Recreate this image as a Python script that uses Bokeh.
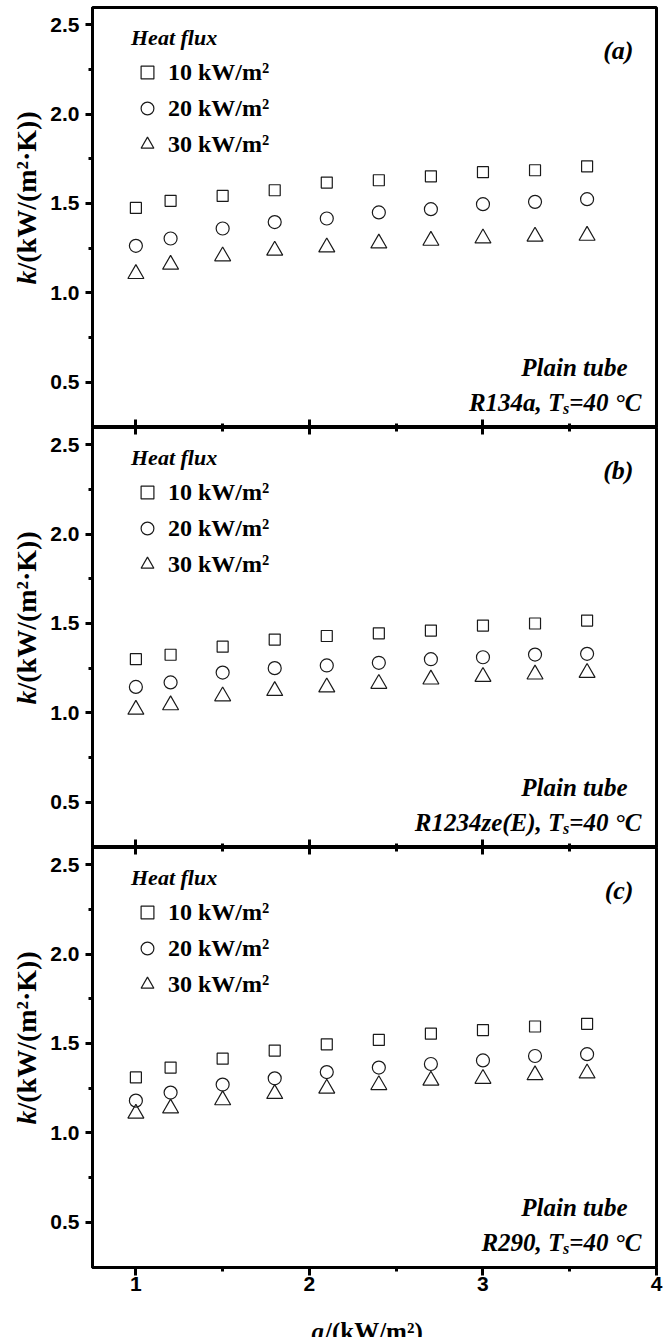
from math import pi
from bokeh.plotting import figure
from bokeh.layouts import column, row
from bokeh.models import (Range1d, FixedTicker, LinearAxis, Label, Legend,
                          LegendItem, PrintfTickFormatter)
from bokeh.embed import file_html
from bokeh.resources import INLINE

# ---------------- data ----------------
q = [1.0, 1.2, 1.5, 1.8, 2.1, 2.4, 2.7, 3.0, 3.3, 3.6]

a_10 = [1.475, 1.515, 1.542, 1.574, 1.617, 1.630, 1.652, 1.675, 1.686, 1.708]
a_20 = [1.263, 1.304, 1.360, 1.396, 1.416, 1.450, 1.468, 1.496, 1.509, 1.524]
a_30 = [1.106, 1.158, 1.205, 1.237, 1.255, 1.277, 1.292, 1.305, 1.315, 1.320]

b_10 = [1.300, 1.325, 1.370, 1.410, 1.430, 1.445, 1.460, 1.488, 1.500, 1.516]
b_20 = [1.145, 1.170, 1.225, 1.250, 1.265, 1.280, 1.300, 1.311, 1.326, 1.330]
b_30 = [1.018, 1.043, 1.093, 1.123, 1.143, 1.163, 1.187, 1.202, 1.215, 1.224]

c_10 = [1.310, 1.365, 1.415, 1.460, 1.495, 1.520, 1.555, 1.575, 1.595, 1.610]
c_20 = [1.180, 1.225, 1.270, 1.305, 1.340, 1.365, 1.385, 1.405, 1.430, 1.440]
c_30 = [1.108, 1.137, 1.183, 1.218, 1.248, 1.268, 1.293, 1.303, 1.323, 1.333]

series_labels = ["10 kW/m²", "20 kW/m²", "30 kW/m²"]
panel_letters = ["(a)", "(b)", "(c)"]
fluids = ["R134a, T", "R1234ze(E), T", "R290, T"]
tube_label = "Plain tube"
legend_title = "Heat flux"
y_title_k = "k"
y_title_rest = "/(kW/(m²·K))"
x_title_q = "q"
x_title_rest = "/(kW/m²)"

x_major = [1, 2, 3, 4]
x_minor = [1.5, 2.5, 3.5]
y_major = [0.5, 1.0, 1.5, 2.0, 2.5]
y_minor = [0.75, 1.25, 1.75, 2.25]

SERIF = "Liberation Serif"
SANS = "Liberation Sans"
INK = "#1a1a1a"

LEFT_W = 46          # width of the strip holding the y titles
FRAME_W = 564
FRAME_H = 420
RIGHT_B = 16
TOP_B = 7
BOTTOM_AXIS = 40     # room under panel (c) for its tick labels
BOTTOM_STRIP = 30    # strip holding the x title
TOTAL_W = 672
TOTAL_H = 1337
PANELS_H = TOTAL_H - BOTTOM_STRIP


def bare_fig(w, h):
    f = figure(frame_width=w, frame_height=h, x_range=Range1d(0, 1),
               y_range=Range1d(0, 1), output_backend="svg",
               toolbar_location=None, min_border=0)
    f.title.visible = False
    f.xaxis.visible = False
    f.yaxis.visible = False
    f.xgrid.visible = False
    f.ygrid.visible = False
    f.outline_line_color = None
    f.background_fill_color = "white"
    f.border_fill_color = "white"
    return f


def style_axis_common(ax):
    ax.axis_line_width = 3
    ax.axis_line_color = "black"
    ax.major_tick_line_width = 3
    ax.minor_tick_line_width = 3
    ax.major_tick_line_color = "black"
    ax.minor_tick_line_color = "black"


def tick_only_axis(ax, positions, length):
    # an axis with no labels: its ticks are drawn as "minor" ticks
    ax.ticker = FixedTicker(ticks=[], minor_ticks=positions)
    style_axis_common(ax)
    ax.major_tick_in = 0
    ax.major_tick_out = 0
    ax.minor_tick_in = length
    ax.minor_tick_out = 0
    ax.major_label_standoff = 0
    ax.axis_label = None


def make_panel(idx, s10, s20, s30, top_border, bottom_border, last):
    p = figure(frame_width=FRAME_W, frame_height=FRAME_H,
               x_range=Range1d(0.75, 4.0), y_range=Range1d(0.246, 2.597),
               output_backend="svg", toolbar_location=None,
               min_border_left=LEFT_W, min_border_right=RIGHT_B,
               min_border_top=top_border, min_border_bottom=bottom_border)
    p.xgrid.visible = False
    p.ygrid.visible = False
    p.outline_line_color = "black"
    p.outline_line_width = 3
    p.outline_line_alpha = 1
    p.background_fill_color = "white"
    p.border_fill_color = "white"

    # y axis
    ya = p.yaxis[0]
    ya.ticker = FixedTicker(ticks=y_major, minor_ticks=y_minor)
    ya.formatter = PrintfTickFormatter(format="%.1f")
    style_axis_common(ya)
    ya.major_tick_out = 7
    ya.major_tick_in = 0
    ya.minor_tick_out = 4
    ya.minor_tick_in = 0
    ya.major_label_text_font = SANS
    ya.major_label_text_font_style = "bold"
    ya.major_label_text_font_size = "21px"
    ya.major_label_text_color = "black"
    ya.major_label_standoff = 6

    # x axis
    xa = p.xaxis[0]
    if last:
        xa.ticker = FixedTicker(ticks=x_major, minor_ticks=x_minor)
        style_axis_common(xa)
        xa.major_tick_out = 8
        xa.major_tick_in = 0
        xa.minor_tick_out = 4
        xa.minor_tick_in = 0
        xa.major_label_text_font = SANS
        xa.major_label_text_font_style = "bold"
        xa.major_label_text_font_size = "21px"
        xa.major_label_text_color = "black"
        xa.major_label_standoff = 1
    else:
        tick_only_axis(xa, x_major, 8)
        xb = LinearAxis()
        tick_only_axis(xb, x_minor, 4)
        p.add_layout(xb, "below")
    if idx > 0:
        t1 = LinearAxis()
        tick_only_axis(t1, x_major, 7)
        p.add_layout(t1, "above")
        t2 = LinearAxis()
        tick_only_axis(t2, x_minor, 4)
        p.add_layout(t2, "above")

    # data
    common = dict(fill_alpha=0, line_color=INK, line_width=1.2)
    r10 = p.scatter(q, s10, marker="square", size=11, **common)
    r20 = p.scatter(q, s20, marker="circle", size=13, **common)
    r30 = p.scatter(q, s30, marker="triangle", size=16, **common)

    legend = Legend(items=[LegendItem(label=series_labels[0], renderers=[r10]),
                           LegendItem(label=series_labels[1], renderers=[r20]),
                           LegendItem(label=series_labels[2], renderers=[r30])],
                    title=legend_title, location=(39, 267),
                    title_text_font=SERIF, title_text_font_style="bold italic",
                    title_text_font_size="22px", title_text_color="black",
                    title_standoff=5,
                    label_text_font=SERIF, label_text_font_style="bold",
                    label_text_font_size="24px", label_text_color="black",
                    glyph_width=32, glyph_height=32, label_height=32,
                    label_standoff=5, spacing=4, padding=0, margin=0,
                    border_line_alpha=0, background_fill_alpha=0)
    p.add_layout(legend)

    # panel letter
    p.add_layout(Label(x=541, y=377, x_units="screen", y_units="screen",
                       text=panel_letters[idx], text_align="right",
                       text_baseline="middle", text_font=SERIF,
                       text_font_style="bold italic", text_font_size="26px",
                       text_color="black"))
    # annotations
    fs = 25
    p.add_layout(Label(x=535, y=60, x_units="screen", y_units="screen",
                       text=tube_label, text_align="right",
                       text_baseline="alphabetic", text_font=SERIF,
                       text_font_style="bold italic", text_font_size=f"{fs}px",
                       text_color="black"))
    tail = "=40 °C"
    tail_w = 2.887 * fs
    p.add_layout(Label(x=549, y=25, x_units="screen", y_units="screen",
                       text=tail, text_align="right",
                       text_baseline="alphabetic", text_font=SERIF,
                       text_font_style="bold italic", text_font_size=f"{fs}px",
                       text_color="black"))
    p.add_layout(Label(x=549 - tail_w, y=19, x_units="screen", y_units="screen",
                       text="s", text_align="right",
                       text_baseline="alphabetic", text_font=SERIF,
                       text_font_style="bold italic", text_font_size="16px",
                       text_color="black"))
    p.add_layout(Label(x=549 - tail_w - 6, y=25, x_units="screen", y_units="screen",
                       text=fluids[idx], text_align="right",
                       text_baseline="alphabetic", text_font=SERIF,
                       text_font_style="bold italic", text_font_size=f"{fs}px",
                       text_color="black"))
    return p


pa = make_panel(0, a_10, a_20, a_30, TOP_B, 0, False)
pb = make_panel(1, b_10, b_20, b_30, 0, 0, False)
pc = make_panel(2, c_10, c_20, c_30, 0, BOTTOM_AXIS, True)

# ---- left strip with the three y titles ----
left = bare_fig(LEFT_W, PANELS_H)
ytitle_size = 28
k_w = 0.5 * ytitle_size
for i in range(3):
    # bottom end of the title, measured from the strip's bottom
    y0 = PANELS_H - (284 + i * FRAME_H)
    left.add_layout(Label(x=26, y=y0, x_units="screen", y_units="screen",
                          text=y_title_k, angle=pi / 2, text_align="left",
                          text_baseline="middle", text_font=SERIF,
                          text_font_style="bold italic",
                          text_font_size=f"{ytitle_size}px", text_color="black"))
    left.add_layout(Label(x=26, y=y0 + k_w, x_units="screen", y_units="screen",
                          text=y_title_rest, angle=pi / 2, text_align="left",
                          text_baseline="middle", text_font=SERIF,
                          text_font_style="bold",
                          text_font_size=f"{ytitle_size}px", text_color="black"))

# ---- bottom strip (full width) with the x title ----
bottom = bare_fig(TOTAL_W, BOTTOM_STRIP)
xt_size = 25
xq_w = 0.5 * xt_size
x_start = 366 - 55   # left end of the title, page pixels
bottom.add_layout(Label(x=x_start, y=6, x_units="screen", y_units="screen",
                        text=x_title_q, text_align="left",
                        text_baseline="alphabetic", text_font=SERIF,
                        text_font_style="bold italic",
                        text_font_size=f"{xt_size}px", text_color="black"))
bottom.add_layout(Label(x=x_start + xq_w + 1, y=6, x_units="screen",
                        y_units="screen", text=x_title_rest, text_align="left",
                        text_baseline="alphabetic", text_font=SERIF,
                        text_font_style="bold",
                        text_font_size=f"{xt_size}px", text_color="black"))

layout = column(row(left, column(pa, pb, pc, spacing=0), spacing=0), bottom,
                spacing=0)
open("out.html", "w").write(file_html(layout, INLINE))
